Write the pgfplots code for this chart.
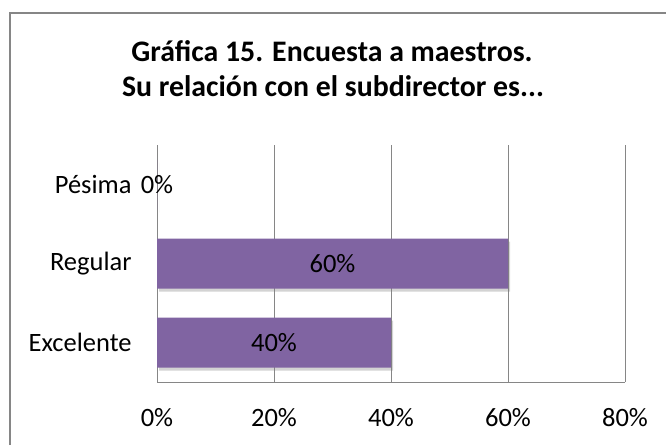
\documentclass[border=0pt]{standalone}
\usepackage{fontspec}
\setmainfont{Carlito}
\usepackage{pgfplots}
\pgfplotsset{compat=1.18}
\usetikzlibrary{shadows}
\definecolor{barpurple}{HTML}{8064A2}
\definecolor{gridgray}{HTML}{868686}
\begin{document}
\begin{tikzpicture}[x=1pt,y=1pt]
\useasboundingbox (0,0) rectangle (666,445);
% chart frame (left and top edges only)
\draw[gridgray, line width=1.5pt] (10,0) -- (10,432) -- (666,432);
\node[anchor=base, font=\bfseries\fontsize{29.8}{34}\selectfont] at (332,383) {Gráfica 15. Encuesta a maestros.};
\node[anchor=base, font=\bfseries\fontsize{29.8}{34}\selectfont] at (333,348) {Su relación con el subdirector es...};
\begin{axis}[
    at={(157pt,63pt)}, anchor=south west,
    scale only axis, width=468pt, height=237pt,
    xbar, bar width=50pt,
    xmin=0, xmax=80, ymin=-0.5, ymax=2.5,
    enlargelimits=false,
    axis x line*=bottom, axis y line*=left,
    x axis line style={-, gridgray, line width=1pt},
    y axis line style={-, gridgray, line width=1pt},
    xmajorgrids, major grid style={gridgray, line width=1pt},
    xtick={0,20,40,60,80},
    xticklabel={\pgfmathprintnumber{\tick}\%},
    ytick={0,1,2}, yticklabels={Excelente,Regular,Pésima},
    tick style={draw=none},
    /pgf/number format/assume math mode=true,
    xticklabel style={font=\fontsize{26.5}{30}\selectfont, inner sep=0pt, yshift=-26pt},
    yticklabel style={font=\fontsize{26.5}{30}\selectfont, inner sep=0pt, anchor=east, xshift=-21pt},
]
\addplot[fill=barpurple, draw=none,
    drop shadow={shadow xshift=2pt, shadow yshift=-3pt, opacity=0.35},
    point meta=x,
    nodes near coords={\pgfmathprintnumber{\pgfplotspointmeta}\%},
    visualization depends on={x \as \xv},
    every node near coord/.append style={anchor=center, xshift={-2.925pt*\xv},
        font=\fontsize{26.5}{30}\selectfont, text=black},
] coordinates {(40,0) (60,1) (0,2)};
\end{axis}
\end{tikzpicture}
\end{document}
